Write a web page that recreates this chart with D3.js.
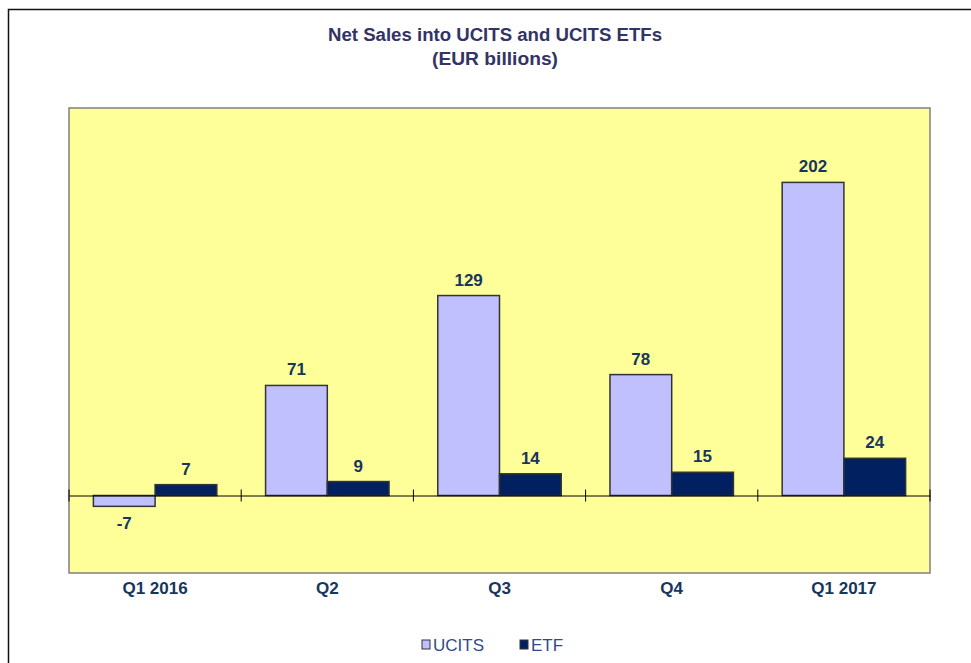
<!DOCTYPE html>
<html>
<head>
<meta charset="utf-8">
<script src="https://cdn.jsdelivr.net/npm/d3@7"></script>
<style>
  html, body { margin: 0; padding: 0; background: #fff; }
  svg { display: block; font-family: "Liberation Sans", Arial, sans-serif; }
</style>
</head>
<body>
<div id="chart"></div>
<script>
// chart data
const quarters = ['Q1 2016', 'Q2', 'Q3', 'Q4', 'Q1 2017'];
const seriesNames = ['UCITS', 'ETF'];
const ucits = [-7, 71, 129, 78, 202];
const etf = [7, 9, 14, 15, 24];
const yDomain = [-50, 250];

const colors = { UCITS: '#C0C0FF', ETF: '#002060' };

const width = 971, height = 663;
const plot = { left: 69, top: 108, right: 930, bottom: 573 };

const svg = d3.select('#chart').append('svg')
  .attr('width', width).attr('height', height);

// outer chart frame (runs past the right and bottom edge)
svg.append('rect')
  .attr('x', 8.5).attr('y', 9.5)
  .attr('width', width + 20).attr('height', height + 20)
  .attr('fill', '#fff').attr('stroke', '#111').attr('stroke-width', 1.5);

// title
const title = svg.append('text')
  .attr('x', 495).attr('text-anchor', 'middle')
  .style('font-size', '18px').style('font-weight', 'bold').attr('fill', '#333366');
title.append('tspan').attr('x', 495).attr('y', 41).text('Net Sales into UCITS and UCITS ETFs')
  .attr('textLength', 334).attr('lengthAdjust', 'spacingAndGlyphs');
title.append('tspan').attr('x', 495).attr('y', 65).text('(EUR billions)')
  .attr('textLength', 126).attr('lengthAdjust', 'spacingAndGlyphs');

// plot area
svg.append('rect')
  .attr('x', plot.left).attr('y', plot.top)
  .attr('width', plot.right - plot.left).attr('height', plot.bottom - plot.top)
  .attr('fill', '#FFFF99').attr('stroke', '#808080').attr('stroke-width', 1.5);

const x0 = d3.scaleBand().domain(quarters).range([plot.left, plot.right]).paddingInner(0).paddingOuter(0);
const x1 = d3.scaleBand().domain(seriesNames).range([0, x0.bandwidth()]).paddingInner(0).paddingOuter(0.395);
const y = d3.scaleLinear().domain(yDomain).range([plot.bottom, plot.top]);

const rows = quarters.map((q, i) => ({ q, values: [
  { key: 'UCITS', v: ucits[i] },
  { key: 'ETF', v: etf[i] },
] }));

const groups = svg.append('g').selectAll('g')
  .data(rows).join('g')
  .attr('transform', (d) => `translate(${x0(d.q)},0)`);

groups.selectAll('rect')
  .data((d) => d.values).join('rect')
  .attr('x', (d) => x1(d.key))
  .attr('y', (d) => y(Math.max(0, d.v)))
  .attr('width', x1.bandwidth())
  .attr('height', (d) => Math.abs(y(d.v) - y(0)))
  .attr('fill', (d) => colors[d.key])
  .attr('stroke', '#333').attr('stroke-width', 1.5);

groups.selectAll('text')
  .data((d) => d.values).join('text')
  .attr('x', (d) => x1(d.key) + x1.bandwidth() / 2)
  .attr('y', (d) => d.v >= 0 ? y(d.v) - 10 : y(d.v) + 23)
  .attr('text-anchor', 'middle')
  .style('font-size', '17px').style('font-weight', 'bold')
  .attr('fill', '#17365D')
  .text((d) => d.v);

// zero axis with category boundary ticks
const xAxis = d3.axisBottom(x0).tickSize(0).tickFormat('');
const axisG = svg.append('g').attr('transform', `translate(0,${y(0)})`).call(xAxis);
axisG.select('.domain').attr('stroke', '#000').attr('stroke-width', 1);
axisG.selectAll('.tick').remove();
const bounds = quarters.map((q) => x0(q)).concat([plot.right]);
axisG.selectAll('line.sep').data(bounds).join('line')
  .attr('class', 'sep')
  .attr('x1', (d) => d).attr('x2', (d) => d)
  .attr('y1', -6).attr('y2', 6)
  .attr('stroke', '#000').attr('stroke-width', 1);

// category labels
svg.append('g').selectAll('text')
  .data(quarters).join('text')
  .attr('x', (d) => x0(d) + x0.bandwidth() / 2)
  .attr('y', 594)
  .attr('text-anchor', 'middle')
  .style('font-size', '17px').style('font-weight', 'bold')
  .attr('fill', '#17365D')
  .text((d) => d);

// legend
const legendX = [422, 520];
const legend = svg.append('g').selectAll('g')
  .data(seriesNames).join('g')
  .attr('transform', (d, i) => `translate(${legendX[i]},640)`);
legend.append('rect')
  .attr('width', 8).attr('height', 9)
  .attr('fill', (d) => colors[d]).attr('stroke', '#333').attr('stroke-width', 1);
legend.append('text')
  .attr('x', 11).attr('y', 10.5)
  .style('font-size', '17px')
  .attr('fill', '#2F4A86')
  .text((d) => d);
</script>
</body>
</html>
